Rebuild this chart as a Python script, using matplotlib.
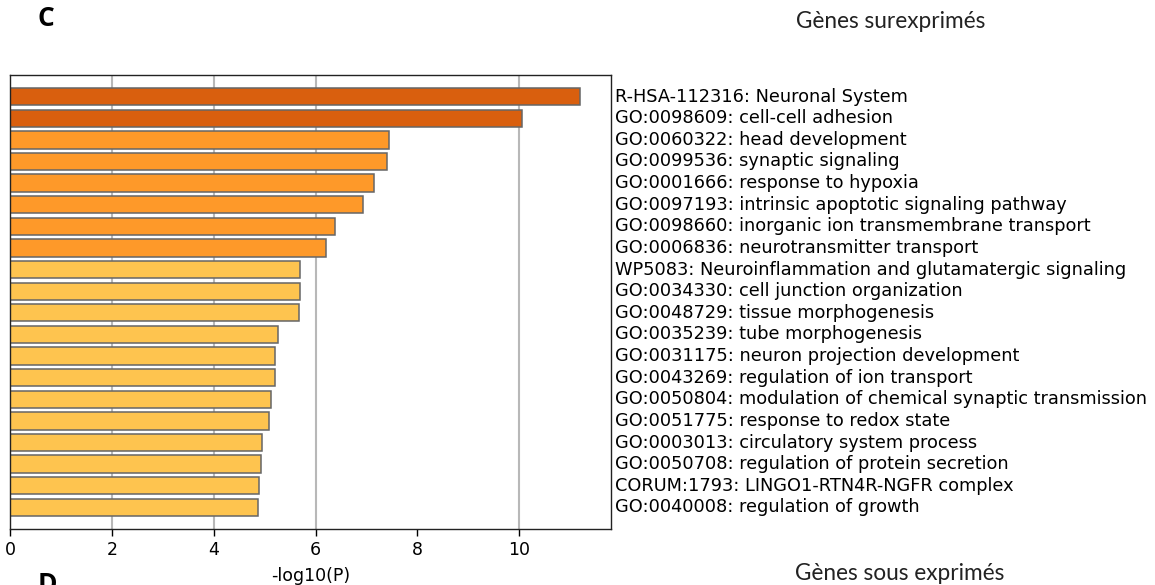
import numpy as np
import matplotlib.pyplot as plt

## DATA ##
terms = [
    "R-HSA-112316: Neuronal System",
    "GO:0098609: cell-cell adhesion",
    "GO:0060322: head development",
    "GO:0099536: synaptic signaling",
    "GO:0001666: response to hypoxia",
    "GO:0097193: intrinsic apoptotic signaling pathway",
    "GO:0098660: inorganic ion transmembrane transport",
    "GO:0006836: neurotransmitter transport",
    "WP5083: Neuroinflammation and glutamatergic signaling",
    "GO:0034330: cell junction organization",
    "GO:0048729: tissue morphogenesis",
    "GO:0035239: tube morphogenesis",
    "GO:0031175: neuron projection development",
    "GO:0043269: regulation of ion transport",
    "GO:0050804: modulation of chemical synaptic transmission",
    "GO:0051775: response to redox state",
    "GO:0003013: circulatory system process",
    "GO:0050708: regulation of protein secretion",
    "CORUM:1793: LINGO1-RTN4R-NGFR complex",
    "GO:0040008: regulation of growth",
]
log_p = [11.2, 10.05, 7.45, 7.4, 7.15, 6.93, 6.38, 6.21, 5.7, 5.7,
         5.67, 5.27, 5.2, 5.2, 5.12, 5.09, 4.94, 4.93, 4.89, 4.87]

x_ticks = [0, 2, 4, 6, 8, 10]
grid_at = [2, 4, 6, 10]

# colour by significance band
def bar_colour(v):
    if v >= 10:
        return '#d95f0e'
    if v >= 6:
        return '#fe9929'
    return '#fec44f'

colours = [bar_colour(v) for v in log_p]

## PLOT ##
fig = plt.figure(figsize=(11.55, 5.85), dpi=100)
ax = fig.add_axes([10 / 1155, 1 - 529 / 585, 601 / 1155, 454 / 585])

y = np.arange(len(terms))
for g in grid_at:
    ax.axvline(g, color='#b8b8b8', lw=1.5, zorder=0)
ax.barh(y, log_p, height=0.8, color=colours, edgecolor='#666666', linewidth=1.1, zorder=2)

ax.set_ylim(len(terms), -1)
ax.set_xlim(0, 11.8)
ax.set_yticks([])
ax.set_xticks(x_ticks)
ax.tick_params(axis='x', labelsize=12.5, length=5, width=1)
ax.set_xlabel('-log10(P)', fontsize=12.5, labelpad=6)

for yi, t in zip(y, terms):
    ax.text(1.006, 1 - (yi + 1) / (len(terms) + 1), t, transform=ax.transAxes,
            ha='left', va='center', fontsize=12.8)

for s in ax.spines.values():
    s.set_linewidth(1.0)
    s.set_color('#222222')

# panel letters and headings
fig.text(46 / 1155, 1 - 19 / 585, 'C', fontsize=19, fontweight='bold',
         family='Open Sans', ha='center', va='center')
fig.text(891 / 1155, 1 - 22 / 585, 'Gènes surexprimés', fontsize=16.3,
         family='Lato', ha='center', va='center', color='#222222')
fig.text(900 / 1155, 1 - 573 / 585, 'Gènes sous exprimés', fontsize=16.3,
         family='Lato', ha='center', va='center', color='#222222')
fig.text(47 / 1155, 1 - 584 / 585, 'D', fontsize=19, fontweight='bold',
         family='Open Sans', ha='center', va='center')

fig.savefig('out.png', dpi=100)
